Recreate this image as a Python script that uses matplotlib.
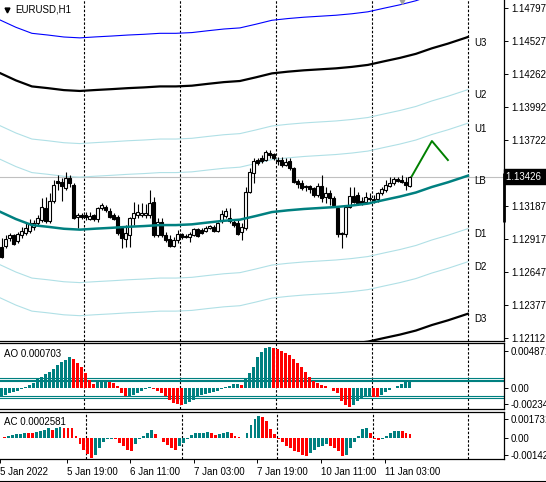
import matplotlib
matplotlib.use("Agg")
import matplotlib.pyplot as plt
from matplotlib.lines import Line2D

plt.rcParams['font.family'] = ['Liberation Sans', 'DejaVu Sans']
FS = 7.0

# ---- EURUSD H1 candles (bar 0 = 5 Jan 03:00) ----
opens = [1.12851, 1.12860, 1.12925, 1.12949, 1.12900, 1.12949, 1.12965, 1.12982, 1.13014, 1.13047,
         1.13071, 1.13169, 1.13063, 1.13226, 1.13389, 1.13381, 1.13332, 1.13413, 1.13356, 1.13096,
         1.13112, 1.13112, 1.13079, 1.13112, 1.13079, 1.13169, 1.13177, 1.13144, 1.13112, 1.13096,
         1.13006, 1.12917, 1.12949, 1.13087, 1.13112, 1.13112, 1.13112, 1.13112, 1.13218, 1.12949,
         1.13055, 1.12949, 1.12917, 1.12860, 1.12908, 1.12957, 1.12941, 1.12933, 1.12949, 1.12998,
         1.12990, 1.12982, 1.13006, 1.13014, 1.12982, 1.13063, 1.13104, 1.13087, 1.13055, 1.13047,
         1.12974, 1.13006, 1.13299, 1.13454, 1.13560, 1.13576, 1.13560, 1.13617, 1.13608, 1.13560,
         1.13560, 1.13519, 1.13551, 1.13494, 1.13389, 1.13372, 1.13348, 1.13348, 1.13332, 1.13275,
         1.13348, 1.13258, 1.13291, 1.13250, 1.13169, 1.12965, 1.12957, 1.13177, 1.13266, 1.13275,
         1.13226, 1.13218, 1.13250, 1.13234, 1.13242, 1.13291, 1.13315, 1.13348, 1.13372, 1.13405,
         1.13397, 1.13381, 1.13348]
highs = [1.12925, 1.12949, 1.12965, 1.12957, 1.12974, 1.13014, 1.13047, 1.13079, 1.13071, 1.13112,
         1.13250, 1.13258, 1.13291, 1.13397, 1.13438, 1.13413, 1.13462, 1.13438, 1.13372, 1.13128,
         1.13128, 1.13136, 1.13136, 1.13120, 1.13177, 1.13210, 1.13193, 1.13169, 1.13128, 1.13112,
         1.13014, 1.13030, 1.13096, 1.13218, 1.13201, 1.13210, 1.13201, 1.13315, 1.13258, 1.13087,
         1.13087, 1.12974, 1.12949, 1.12933, 1.12990, 1.12965, 1.12957, 1.12974, 1.13006, 1.13006,
         1.13006, 1.13022, 1.13030, 1.13030, 1.13055, 1.13153, 1.13169, 1.13169, 1.13071, 1.13071,
         1.13047, 1.13340, 1.13494, 1.13576, 1.13576, 1.13600, 1.13641, 1.13641, 1.13617, 1.13584,
         1.13584, 1.13576, 1.13576, 1.13503, 1.13405, 1.13397, 1.13356, 1.13356, 1.13340, 1.13372,
         1.13438, 1.13340, 1.13315, 1.13266, 1.13177, 1.12974, 1.13193, 1.13340, 1.13340, 1.13299,
         1.13258, 1.13299, 1.13291, 1.13275, 1.13299, 1.13340, 1.13397, 1.13421, 1.13421, 1.13421,
         1.13438, 1.13421, 1.13429]
lows = [1.12762, 1.12843, 1.12900, 1.12868, 1.12884, 1.12925, 1.12949, 1.12965, 1.12990, 1.13022,
        1.13055, 1.13047, 1.13047, 1.13210, 1.13315, 1.13226, 1.13315, 1.13340, 1.13079, 1.13006,
        1.13079, 1.13071, 1.13071, 1.13063, 1.13055, 1.13153, 1.13136, 1.13087, 1.13071, 1.12949,
        1.12843, 1.12851, 1.12851, 1.13030, 1.13087, 1.13096, 1.13087, 1.13087, 1.12933, 1.12933,
        1.12933, 1.12892, 1.12851, 1.12851, 1.12884, 1.12917, 1.12925, 1.12892, 1.12941, 1.12933,
        1.12957, 1.12974, 1.12998, 1.12974, 1.12974, 1.13047, 1.13087, 1.13047, 1.13014, 1.12949,
        1.12908, 1.12990, 1.13291, 1.13372, 1.13519, 1.13535, 1.13551, 1.13576, 1.13560, 1.13519,
        1.13503, 1.13511, 1.13478, 1.13372, 1.13332, 1.13315, 1.13307, 1.13291, 1.13258, 1.13258,
        1.13218, 1.13210, 1.13193, 1.13177, 1.12933, 1.12843, 1.12933, 1.13169, 1.13210, 1.13193,
        1.13193, 1.13210, 1.13226, 1.13210, 1.13218, 1.13275, 1.13299, 1.13340, 1.13356, 1.13381,
        1.13372, 1.13315, 1.13340]
closes = [1.12770, 1.12917, 1.12949, 1.12876, 1.12957, 1.12982, 1.13006, 1.13047, 1.13047, 1.13087,
          1.13177, 1.13063, 1.13226, 1.13356, 1.13372, 1.13348, 1.13413, 1.13372, 1.13087, 1.13112,
          1.13096, 1.13096, 1.13104, 1.13079, 1.13169, 1.13193, 1.13153, 1.13096, 1.13079, 1.12965,
          1.12925, 1.12965, 1.13087, 1.13128, 1.13136, 1.13128, 1.13128, 1.13210, 1.12949, 1.13055,
          1.12949, 1.12908, 1.12860, 1.12908, 1.12957, 1.12933, 1.12933, 1.12957, 1.12998, 1.12941,
          1.12965, 1.13006, 1.13022, 1.12982, 1.13047, 1.13120, 1.13144, 1.13063, 1.13030, 1.12957,
          1.13014, 1.13299, 1.13462, 1.13551, 1.13535, 1.13551, 1.13625, 1.13600, 1.13576, 1.13551,
          1.13519, 1.13543, 1.13494, 1.13381, 1.13364, 1.13332, 1.13340, 1.13323, 1.13275, 1.13348,
          1.13250, 1.13291, 1.13250, 1.13193, 1.12957, 1.12957, 1.13177, 1.13266, 1.13218, 1.13210,
          1.13210, 1.13258, 1.13242, 1.13242, 1.13291, 1.13323, 1.13356, 1.13372, 1.13405, 1.13389,
          1.13381, 1.13356, 1.13426]

# ---- channel middle line (LB) and band offsets ----
lb_x = [-0.4, 3.6, 7.6, 11.6, 15.6, 19.6, 23.6, 27.6, 31.6, 35.6, 39.6, 43.6, 47.6, 51.6, 55.6,
        59.6, 63.6, 67.6, 71.6, 75.6, 79.6, 83.6, 87.6, 91.6, 95.6, 99.6, 103.6, 107.6, 111.6,
        115.6, 116.6]
lb_vals = [1.13140, 1.13080, 1.13031, 1.13017, 1.13001, 1.12994, 1.13002, 1.13009, 1.13017,
           1.13023, 1.13031, 1.13031, 1.13037, 1.13052, 1.13066, 1.13075, 1.13105, 1.13137,
           1.13151, 1.13162, 1.13170, 1.13178, 1.13190, 1.13206, 1.13235, 1.13263, 1.13296,
           1.13341, 1.13379, 1.13422, 1.13433]
band_names = ['U3', 'U2', 'U1', 'LB', 'D1', 'D2', 'D3']
band_offsets = [0.01128, 0.00700, 0.00427, 0.0, -0.00431, -0.00700, -0.01123]
outer_offset = 0.01560

forecast_x = [102.6, 107.6, 111.6]
forecast_y = [1.13430, 1.13715, 1.13560]

bid = 1.13426
price_ticks = [1.14797, 1.14527, 1.14262, 1.13992, 1.13722, 1.13453, 1.13187,
               1.12917, 1.12647, 1.12377, 1.12112]

# ---- Awesome Oscillator ----
ao = [-0.00099, -0.00081, -0.00063, -0.00052, -0.00037, -0.00020, 0.00010, 0.00028, 0.00054, 0.00091,
      0.00119, 0.00149, 0.00174, 0.00203, 0.00247, 0.00283, 0.00302, 0.00331, 0.00316, 0.00269,
      0.00222, 0.00160, 0.00080, 0.00040, 0.00058, 0.00066, 0.00070, 0.00061, 0.00047, 0.00014,
      -0.00059, -0.00095, -0.00090, -0.00085, -0.00059, -0.00034, -0.00015, 0.00004, -0.00012, -0.00034,
      -0.00059, -0.00095, -0.00132, -0.00168, -0.00179, -0.00194, -0.00179, -0.00157, -0.00132, -0.00106,
      -0.00084, -0.00070, -0.00059, -0.00048, -0.00034, -0.00015, 0.00008, 0.00021, 0.00036, 0.00038,
      0.00032, 0.00090, 0.00156, 0.00229, 0.00331, 0.00393, 0.00429, 0.00447, 0.00433, 0.00425,
      0.00396, 0.00378, 0.00360, 0.00316, 0.00269, 0.00221, 0.00167, 0.00112, 0.00068, 0.00050,
      0.00032, 0.00014, -0.00004, -0.00034, -0.00059, -0.00150, -0.00187, -0.00216, -0.00187, -0.00150,
      -0.00114, -0.00095, -0.00090, -0.00106, -0.00108, -0.00084, -0.00048, -0.00023, -0.00004, 0.00021,
      0.00043, 0.00061, 0.000703]
ao_levels = [0.00110, 0.00088, 0.00069, -0.00092, -0.00117]
ao_ticks = [0.003964, 0.0, -0.001796]
ao_ticklabels = ['0.004871', '0.00', '-0.002342']

# ---- Accelerator Oscillator ----
ac = [0.00005, 0.00012, 0.00017, 0.00023, 0.00028, 0.00032, 0.00030, 0.00029, 0.00036, 0.00044,
      0.00054, 0.00063, 0.00052, 0.00064, 0.00074, 0.00068, 0.00066, 0.00064, 0.00010, -0.00044,
      -0.00080, -0.00112, -0.00137, -0.00118, -0.00067, -0.00026, -0.00008, -0.00006, -0.00010, -0.00033,
      -0.00056, -0.00085, -0.00090, -0.00044, -0.00010, 0.00013, 0.00035, 0.00052, 0.00024, -0.00003,
      -0.00026, -0.00049, -0.00067, -0.00079, -0.00056, -0.00033, -0.00005, 0.00017, 0.00030, 0.00033,
      0.00035, 0.00037, 0.00029, 0.00020, 0.00026, 0.00031, 0.00036, 0.00029, 0.00012, 0.00003,
      0.00001, 0.00033, 0.00083, 0.00129, 0.00147, 0.00142, 0.00113, 0.00060, 0.00024, -0.00008,
      -0.00031, -0.00054, -0.00070, -0.00092, -0.00099, -0.00115, -0.00122, -0.00104, -0.00081, -0.00063,
      -0.00053, -0.00044, -0.00053, -0.00069, -0.00092, -0.00122, -0.00115, -0.00070, -0.00031, 0.00010,
      0.00056, 0.00063, 0.00029, -0.00008, -0.00017, -0.00008, 0.00015, 0.00029, 0.00047, 0.00048,
      0.00047, 0.00033, 0.000258]
ac_ticks = [0.001281, 0.0, -0.001178]
ac_ticklabels = ['0.001731', '0.00', '-0.001427']

time_bars = [0, 16, 32, 48, 64, 80, 96]
time_labels = ['5 Jan 2022', '5 Jan 19:00', '6 Jan 11:00', '7 Jan 03:00',
               '7 Jan 19:00', '10 Jan 11:00', '11 Jan 03:00']
day_breaks = [21, 45, 69, 93, 117]

TEAL = '#008080'
RED = '#ff0000'
CYAN = '#b0e0e6'

W, H = 546, 482
fig = plt.figure(figsize=(W / 100, H / 100), dpi=100)
right = 504 / W


def pane(top_px, bot_px):
    return fig.add_axes([0, 1 - bot_px / H, right, (bot_px - top_px) / H])


ax = pane(0, 341)
ax_ao = pane(343, 409)
ax_ac = pane(412, 459)

xmin, xmax = -0.375, 125.625
for a in (ax, ax_ao, ax_ac):
    a.set_xlim(xmin, xmax)
    a.set_facecolor('white')
    a.spines['left'].set_visible(False)
    for s in ('top', 'bottom', 'right'):
        a.spines[s].set_linewidth(0.9)
        a.spines[s].set_color('black')
    a.yaxis.tick_right()
    a.tick_params(axis='y', direction='out', length=3, width=0.7, pad=2, labelsize=FS)
    for d in day_breaks:
        a.axvline(d - 0.375, color='black', lw=0.8, ls=(0, (2.2, 1.6)), zorder=1)
ax.spines['top'].set_visible(False)

# ---- main pane ----
ax.set_ylim(1.12088, 1.14862)
ax.set_xticks([])
ax.set_yticks(price_ticks)
ax.set_yticklabels(['%.5f' % p for p in price_ticks])

ax.axhline(bid, color='#c0c0c0', lw=0.8, zorder=1)

outer = [v + outer_offset for v in lb_vals]
ax.plot(lb_x, outer, color='#0000ff', lw=0.8, zorder=2)
for name, off in zip(band_names, band_offsets):
    vals = [v + off for v in lb_vals]
    if name == 'LB':
        ax.plot(lb_x, vals, color=TEAL, lw=1.8, zorder=5)
    elif name in ('U3', 'D3'):
        ax.plot(lb_x, vals, color='black', lw=1.6, zorder=2)
    else:
        ax.plot(lb_x, vals, color=CYAN, lw=0.8, zorder=2)
    ax.text(118.3, vals[-1] - 0.00045, name, fontsize=FS, va='center', ha='left')

xs = list(range(len(closes)))
ax.vlines(xs, lows, highs, color='black', lw=0.8, zorder=3)
body_low = [min(o, c) for o, c in zip(opens, closes)]
body_h = [max(abs(c - o), 0.00001) for o, c in zip(opens, closes)]
body_col = ['white' if c > o else 'black' for o, c in zip(opens, closes)]
ax.bar(xs, body_h, bottom=body_low, width=0.55, color=body_col,
       edgecolor='black', linewidth=0.8, zorder=4)

ax.plot(forecast_x, forecast_y, color='#008000', lw=1.4, zorder=6)
ax.plot([100], [1.14850], marker='v', color='#a0a0a0', ms=5, zorder=6)

ax.text(15 / 504, 1 - 9.5 / 341, 'EURUSD,H1', transform=ax.transAxes,
        fontsize=FS, va='center', ha='left')
ax.plot([6.5 / 504], [1 - 10 / 341], marker='v', color='black', ms=3.5,
        transform=ax.transAxes, clip_on=False)

ax.annotate('1.13426 ', xy=(1, bid), xycoords=('axes fraction', 'data'),
            xytext=(1.6, 0), textcoords='offset points', va='center', ha='left',
            fontsize=FS, color='white', annotation_clip=False, zorder=10,
            bbox=dict(boxstyle='square,pad=0.25', fc='black', ec='black'))
ax.plot([xmax, xmax], [1.13454, 1.13055], color='black', lw=2,
        solid_capstyle='butt', clip_on=False, zorder=9)

# ---- AO pane ----
ao_col = [TEAL] + [TEAL if ao[i] > ao[i - 1] else RED for i in range(1, len(ao))]
ax_ao.set_ylim(-0.002342, 0.004871)
for lv in ao_levels:
    ax_ao.axhline(lv, color=TEAL, lw=0.8, zorder=1)
ax_ao.bar(range(len(ao)), ao, width=0.72, color=ao_col, zorder=3)
ax_ao.set_xticks([])
ax_ao.set_yticks(ao_ticks)
ax_ao.set_yticklabels(ao_ticklabels)
ax_ao.text(4 / 504, 1 - 11 / 66, 'AO 0.000703', transform=ax_ao.transAxes,
           fontsize=FS, va='center', ha='left')

# ---- AC pane ----
ac_col = [RED] + [TEAL if ac[i] > ac[i - 1] else RED for i in range(1, len(ac))]
ax_ac.set_ylim(-0.001427, 0.001731)
ax_ac.bar(range(len(ac)), ac, width=0.72, color=ac_col, zorder=3)
ax_ac.set_yticks(ac_ticks)
ax_ac.set_yticklabels(ac_ticklabels)
ax_ac.text(4 / 504, 1 - 10 / 47, 'AC 0.0002581', transform=ax_ac.transAxes,
           fontsize=FS, va='center', ha='left')

tick_x = [b - 0.375 for b in time_bars]
tick_x[0] = -1.1
ax_ac.set_xticks(tick_x)
ax_ac.set_xticklabels(time_labels)
ax_ac.tick_params(axis='x', direction='out', length=3, width=0.7, pad=2.5, labelsize=FS)
for lab in ax_ac.get_xticklabels():
    lab.set_ha('left')

fig.add_artist(Line2D([0, 1], [0.6 / H, 0.6 / H], color='black', lw=0.8,
                      transform=fig.transFigure))

fig.savefig('out.png', dpi=100)
